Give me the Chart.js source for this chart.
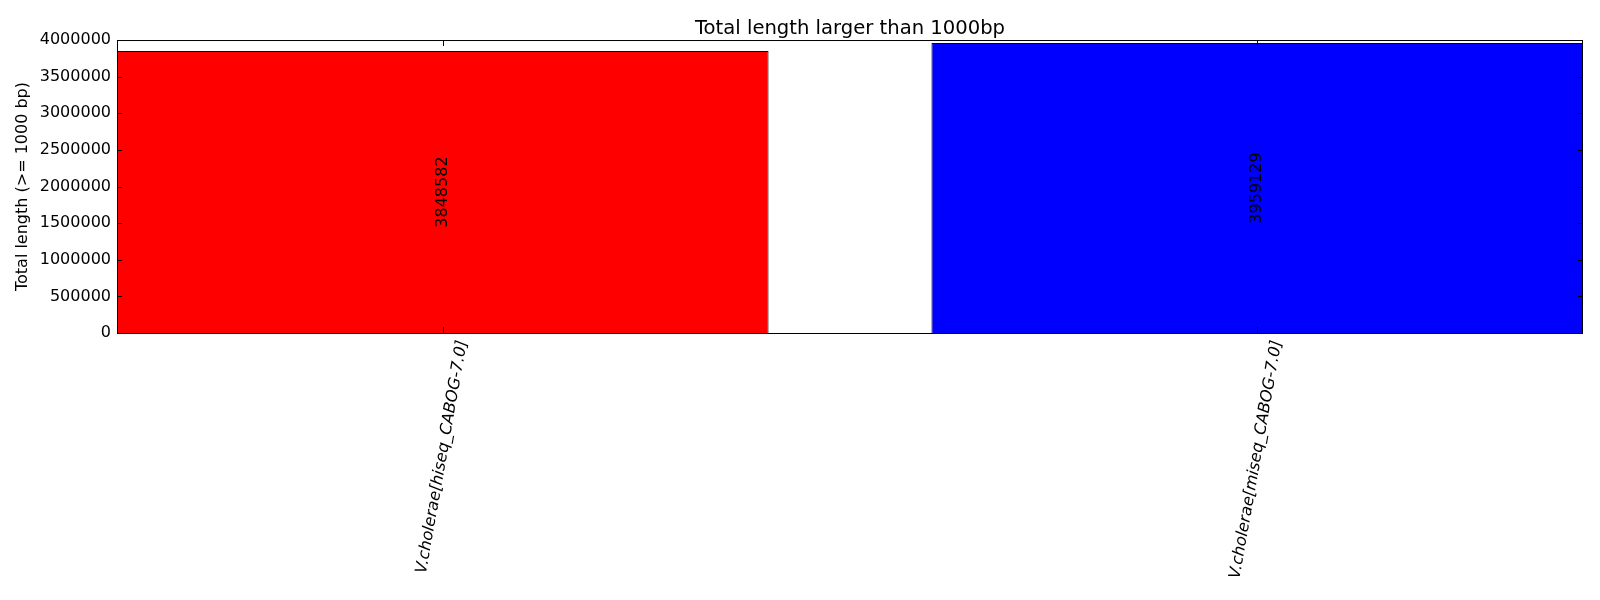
<!DOCTYPE html>
<html lang="en">
  <head>
    <meta charset="UTF-8" />
    <title>Total length larger than 1000bp</title>
    <script src="https://cdn.jsdelivr.net/npm/chart.js"></script>
    <style>
      body {
        margin: 0;
        background: #ffffff;
      }
    </style>
  </head>
  <body>
    <canvas id="myChart" width="1600" height="600"></canvas>
    <script>
      const categories = [
        "V.cholerae[hiseq_CABOG-7.0]",
        "V.cholerae[miseq_CABOG-7.0]",
      ];
      const totalLengths = [3848582, 3959129];
      const barColors = ["#ff0000", "#0000ff"];

      const FONT = "'DejaVu Sans', sans-serif";

      // matplotlib-style frame with inward ticks, plus value labels in the bars
      const framePlugin = {
        id: "frame",
        afterDatasetsDraw(chart) {
          const { ctx, chartArea: a, scales } = chart;
          const x = scales.x;
          const y = scales.y;
          ctx.save();
          ctx.strokeStyle = "#000000";
          ctx.lineWidth = 1;

          ctx.beginPath();
          y.ticks.forEach((t) => {
            const py = Math.round(y.getPixelForValue(t.value)) + 0.5;
            ctx.moveTo(a.left, py);
            ctx.lineTo(a.left + 5, py);
            ctx.moveTo(a.right, py);
            ctx.lineTo(a.right - 5, py);
          });
          x.ticks.forEach((t) => {
            const px = Math.round(x.getPixelForValue(t.value)) + 0.5;
            ctx.moveTo(px, a.bottom);
            ctx.lineTo(px, a.bottom - 6);
            ctx.moveTo(px, a.top);
            ctx.lineTo(px, a.top + 6);
          });
          ctx.stroke();

          ctx.strokeRect(
            a.left + 0.5,
            a.top + 0.5,
            a.right - a.left - 1,
            a.bottom - a.top
          );

          const meta = chart.getDatasetMeta(0);
          ctx.fillStyle = "#000000";
          ctx.font = "16px " + FONT;
          ctx.textAlign = "center";
          ctx.textBaseline = "middle";
          meta.data.forEach((bar, i) => {
            const py = y.getPixelForValue(totalLengths[i] / 2);
            ctx.save();
            ctx.translate(bar.x, py);
            ctx.rotate(-Math.PI / 2);
            ctx.fillText(String(totalLengths[i]), 0, 0);
            ctx.restore();
          });
          ctx.restore();
        },
      };

      const ctx = document.getElementById("myChart").getContext("2d");

      new Chart(ctx, {
        type: "bar",
        data: {
          datasets: [
            {
              data: totalLengths.map((v, i) => ({ x: i, y: v })),
              backgroundColor: barColors,
              borderColor: "#000000",
              borderWidth: 1,
              barPercentage: 0.8,
              categoryPercentage: 1.0,
            },
          ],
        },
        options: {
          responsive: false,
          animation: false,
          layout: {
            padding: { left: 0, right: 17, top: 0, bottom: 0 },
          },
          plugins: {
            legend: { display: false },
            tooltip: { enabled: false },
            title: {
              display: true,
              fullSize: false,
              text: "Total length larger than 1000bp",
              color: "#000000",
              font: { family: FONT, size: 19.6, weight: "normal" },
              padding: { top: 17, bottom: -0.5 },
            },
          },
          scales: {
            x: {
              type: "linear",
              offset: false,
              min: -0.4,
              max: 1.4,
              grid: { display: false, drawTicks: false, offset: false },
              border: { display: false },
              afterBuildTicks: (scale) => {
                scale.ticks = categories.map((c, i) => ({ value: i }));
              },
              afterFit: (scale) => {
                scale.height = 267;
              },
              ticks: {
                autoSkip: false,
                minRotation: 80,
                maxRotation: 80,
                padding: 6,
                labelOffset: 20,
                color: "#000000",
                font: { family: FONT, size: 16, style: "italic" },
                callback: (value) => categories[value],
              },
            },
            y: {
              min: 0,
              max: 4000000,
              grid: { display: false, drawTicks: false },
              border: { display: false },
              afterFit: (scale) => {
                scale.width = 117;
              },
              ticks: {
                stepSize: 500000,
                padding: 6,
                color: "#000000",
                font: { family: FONT, size: 16 },
                callback: (value) => String(value),
              },
              title: {
                display: true,
                text: "Total length (>= 1000 bp)",
                color: "#000000",
                font: { family: FONT, size: 16 },
                padding: { top: 13, bottom: 0 },
              },
            },
          },
        },
        plugins: [framePlugin],
      });
    </script>
  </body>
</html>
